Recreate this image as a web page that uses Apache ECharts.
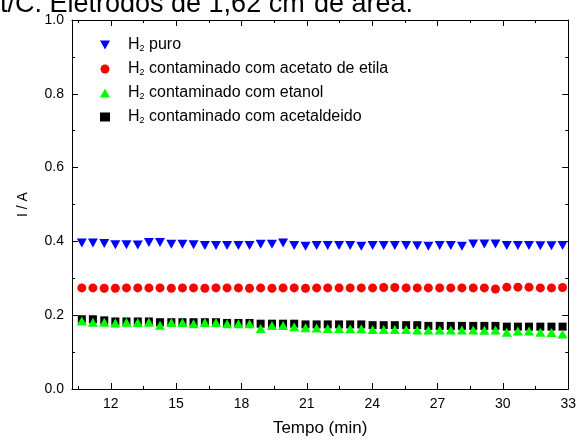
<!DOCTYPE html>
<html>
<head>
<meta charset="utf-8">
<script src="https://cdn.jsdelivr.net/npm/echarts@6/dist/echarts.min.js"></script>
<style>
html, body { margin: 0; padding: 0; background: #fff; }
#chart { width: 579px; height: 442px; }
</style>
</head>
<body>
<div id="chart"></div>
<script>
// tempo de cada ponto (min)
const tempo = [10.16, 10.67, 11.18, 11.70, 12.21, 12.72, 13.24, 13.75, 14.26, 14.78,
    15.29, 15.80, 16.32, 16.83, 17.34, 17.86, 18.37, 18.88, 19.40, 19.91,
    20.42, 20.94, 21.45, 21.96, 22.48, 22.99, 23.50, 24.02, 24.53, 25.04,
    25.56, 26.07, 26.58, 27.10, 27.61, 28.12, 28.64, 29.15, 29.66, 30.18,
    30.69, 31.20, 31.72, 32.23, 32.74];

// corrente (A)
const h2Puro = [0.397, 0.396, 0.396, 0.394, 0.391, 0.391, 0.390, 0.397, 0.397, 0.392,
    0.392, 0.391, 0.389, 0.389, 0.389, 0.389, 0.389, 0.392, 0.392, 0.396,
    0.389, 0.387, 0.389, 0.389, 0.389, 0.389, 0.387, 0.389, 0.389, 0.389,
    0.389, 0.388, 0.387, 0.389, 0.389, 0.387, 0.393, 0.393, 0.393, 0.389,
    0.389, 0.389, 0.388, 0.388, 0.389];
const h2AcetatoEtila = [0.274, 0.274, 0.274, 0.273, 0.273, 0.274, 0.274, 0.274, 0.274, 0.273,
    0.274, 0.274, 0.273, 0.274, 0.274, 0.274, 0.273, 0.274, 0.273, 0.274,
    0.274, 0.273, 0.274, 0.274, 0.274, 0.274, 0.274, 0.274, 0.275, 0.275,
    0.274, 0.274, 0.274, 0.274, 0.274, 0.274, 0.274, 0.274, 0.271, 0.276,
    0.276, 0.276, 0.274, 0.274, 0.275];
const h2Etanol = [0.184, 0.184, 0.181, 0.181, 0.179, 0.181, 0.180, 0.181, 0.173, 0.180,
    0.180, 0.177, 0.180, 0.180, 0.177, 0.177, 0.177, 0.164, 0.172, 0.172,
    0.169, 0.166, 0.165, 0.164, 0.164, 0.163, 0.163, 0.161, 0.161, 0.161,
    0.161, 0.160, 0.160, 0.160, 0.160, 0.160, 0.160, 0.159, 0.160, 0.154,
    0.157, 0.157, 0.154, 0.153, 0.149];
const h2Acetaldeido = [0.189, 0.189, 0.189, 0.186, 0.183, 0.183, 0.183, 0.183, 0.181, 0.181,
    0.181, 0.181, 0.181, 0.181, 0.179, 0.179, 0.179, 0.177, 0.177, 0.177,
    0.177, 0.175, 0.175, 0.175, 0.175, 0.175, 0.175, 0.173, 0.173, 0.173,
    0.173, 0.173, 0.171, 0.171, 0.171, 0.171, 0.171, 0.171, 0.171, 0.169,
    0.169, 0.169, 0.169, 0.169, 0.169];

const nomes = ['H2 puro', 'H2 contaminado com acetato de etila',
    'H2 contaminado com etanol', 'H2 contaminado com acetaldeido'];
const xTicks = [12, 15, 18, 21, 24, 27, 30, 33];
const xTicksMenores = [10.5, 13.5, 16.5, 19.5, 22.5, 25.5, 28.5, 31.5];
const xMin = 10.22, xMax = 33;

// triangulo para baixo na legenda
const trianguloBaixo = 'path://M0,0 L10,0 L5,9 Z';

function pares(valores) {
    return tempo.map((t, i) => [t, valores[i]]);
}

function eixoX(posicao, ticks, comprimento, principal) {
    return {
        type: 'value', position: posicao, min: xMin, max: xMax,
        axisLine: { show: principal, onZero: false, lineStyle: { color: '#000', width: 1 } },
        axisTick: { inside: true, length: comprimento, customValues: ticks, lineStyle: { color: '#000' } },
        axisLabel: { show: principal && posicao === 'bottom', customValues: ticks, fontSize: 14, color: '#000', margin: 8 },
        splitLine: { show: false }
    };
}

function eixoY(posicao) {
    return {
        type: 'value', position: posicao, min: 0, max: 1, interval: 0.2,
        axisLine: { show: true, onZero: false, lineStyle: { color: '#000', width: 1 } },
        axisTick: { inside: true, length: 6, lineStyle: { color: '#000' } },
        minorTick: { show: true, splitNumber: 2, length: 3, lineStyle: { color: '#000' } },
        axisLabel: { show: posicao === 'left', fontSize: 14, color: '#000', margin: 8,
            formatter: v => v.toFixed(1) },
        splitLine: { show: false }
    };
}

let mychart = echarts.init(document.getElementById('chart'));

const xBase = eixoX('bottom', xTicks, 6, true);
xBase.name = 'Tempo (min)';
xBase.nameLocation = 'middle';
xBase.nameGap = 31;
xBase.nameTextStyle = { fontSize: 17, color: '#000' };

const yBase = eixoY('left');
yBase.name = 'I / A';
yBase.nameLocation = 'middle';
yBase.nameGap = 42;
yBase.nameTextStyle = { fontSize: 14, color: '#000' };

mychart.setOption({
    animation: false,
    textStyle: { fontFamily: 'Liberation Sans, Arial, sans-serif' },
    grid: { left: 72, right: 6, top: 20, bottom: 49 },
    graphic: [
        { type: 'text', x: 0, y: 5, style: { text: 't/C. Eletrodos de 1,62 cm', fontSize: 27, fill: '#000',
            verticalAlign: 'middle', fontFamily: 'Liberation Sans' } },
        { type: 'text', x: 298, y: -12, style: { text: '2', fontSize: 15, fill: '#000',
            verticalAlign: 'middle', fontFamily: 'Liberation Sans' } },
        { type: 'text', x: 314, y: 5, style: { text: 'de área.', fontSize: 27, fill: '#000',
            verticalAlign: 'middle', fontFamily: 'Liberation Sans' } }
    ],
    legend: {
        orient: 'vertical', left: 95, top: 28,
        itemWidth: 10, itemHeight: 9, itemGap: 4,
        data: [
            { name: nomes[0], icon: trianguloBaixo },
            { name: nomes[1], icon: 'circle' },
            { name: nomes[2], icon: 'triangle' },
            { name: nomes[3], icon: 'rect' }
        ],
        formatter: nome => '{h|H}{s|2}{m|' + nome.slice(2) + '}',
        textStyle: {
            color: '#000',
            rich: {
                h: { fontSize: 16, lineHeight: 16, verticalAlign: 'top', color: '#000', padding: [0, 0, 0, 13] },
                m: { fontSize: 16, lineHeight: 16, verticalAlign: 'top', color: '#000' },
                s: { fontSize: 9, lineHeight: 9, padding: [11, 0, 0, 0], verticalAlign: 'bottom', color: '#000' }
            }
        }
    },
    xAxis: [
        xBase,
        eixoX('bottom', xTicksMenores, 3, false),
        eixoX('top', xTicks, 6, true),
        eixoX('top', xTicksMenores, 3, false)
    ],
    yAxis: [yBase, eixoY('right')],
    series: [
        { name: nomes[0], type: 'scatter', data: pares(h2Puro), symbol: 'triangle', symbolRotate: 180,
            symbolSize: [10, 9], itemStyle: { color: '#0000ff', opacity: 1 }, z: 3 },
        { name: nomes[1], type: 'scatter', data: pares(h2AcetatoEtila), symbol: 'circle',
            symbolSize: 9, itemStyle: { color: '#ff0000', opacity: 1 }, z: 3 },
        { name: nomes[2], type: 'scatter', data: pares(h2Etanol), symbol: 'triangle',
            symbolSize: [10, 9], itemStyle: { color: '#00ff00', opacity: 1 }, z: 3 },
        { name: nomes[3], type: 'scatter', data: pares(h2Acetaldeido), symbol: 'rect',
            symbolSize: 8, itemStyle: { color: '#000000', opacity: 1 }, z: 2 }
    ]
});
</script>
</body>
</html>
